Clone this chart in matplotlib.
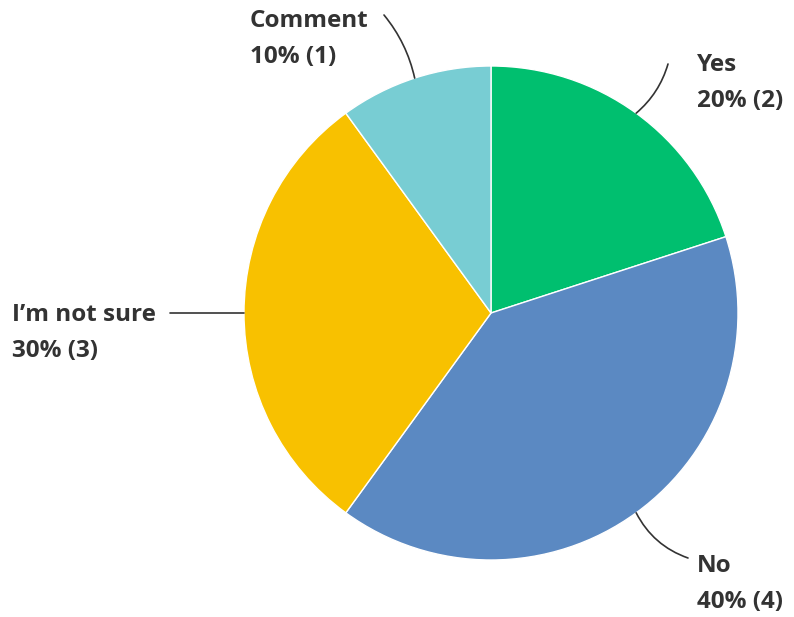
import numpy as np
import matplotlib.pyplot as plt

labels = ['Yes', 'No', "I\u2019m not sure", 'Comment']
counts = [2, 4, 3, 1]
colors = ['#00BF6F', '#5B89C2', '#F8C100', '#78CDD3']

total = sum(counts)
W, H = 794, 617
cx, cy, r = 491, H - 313, 247

fig = plt.figure(figsize=(W / 100, H / 100), dpi=100)
ax = fig.add_axes([0, 0, 1, 1])

wedges, _ = ax.pie(counts, colors=colors, startangle=90, counterclock=False,
                   center=(cx, cy), radius=r,
                   wedgeprops=dict(linewidth=1, edgecolor='white'))
ax.set_xlim(0, W)
ax.set_ylim(0, H)
ax.set_aspect('equal')
ax.axis('off')

# label placement: (text x, text y in px from top, line end x, line end y, rad)
place = {
    'Yes': (697, 65, 668, 64, -0.15),
    'No': (697, 566, 688, 558, -0.2),
    "I\u2019m not sure": (12, 315, 170, 313, 0.0),
    'Comment': (250, 21, 384, 15, -0.12),
}

for w, lab, n in zip(wedges, labels, counts):
    ang = np.deg2rad((w.theta1 + w.theta2) / 2)
    px, py = cx + r * np.cos(ang), cy + r * np.sin(ang)
    tx, ty, ex, ey, rad = place[lab]
    ax.annotate('', xy=(px, py), xytext=(ex, H - ey),
                arrowprops=dict(arrowstyle='-', color='#333333', lw=1.2,
                                connectionstyle='arc3,rad=%s' % rad,
                                shrinkA=0, shrinkB=0))
    pct = round(100 * n / total)
    ax.text(tx, H - ty, lab, ha='left', va='center', fontsize=17.5,
            family='Open Sans', fontweight='bold', color='#333333')
    ax.text(tx, H - ty - 36, '%d%% (%d)' % (pct, n), ha='left', va='center',
            fontsize=17.5, family='Open Sans', fontweight='bold', color='#333333')

fig.savefig('out.png', dpi=100)
